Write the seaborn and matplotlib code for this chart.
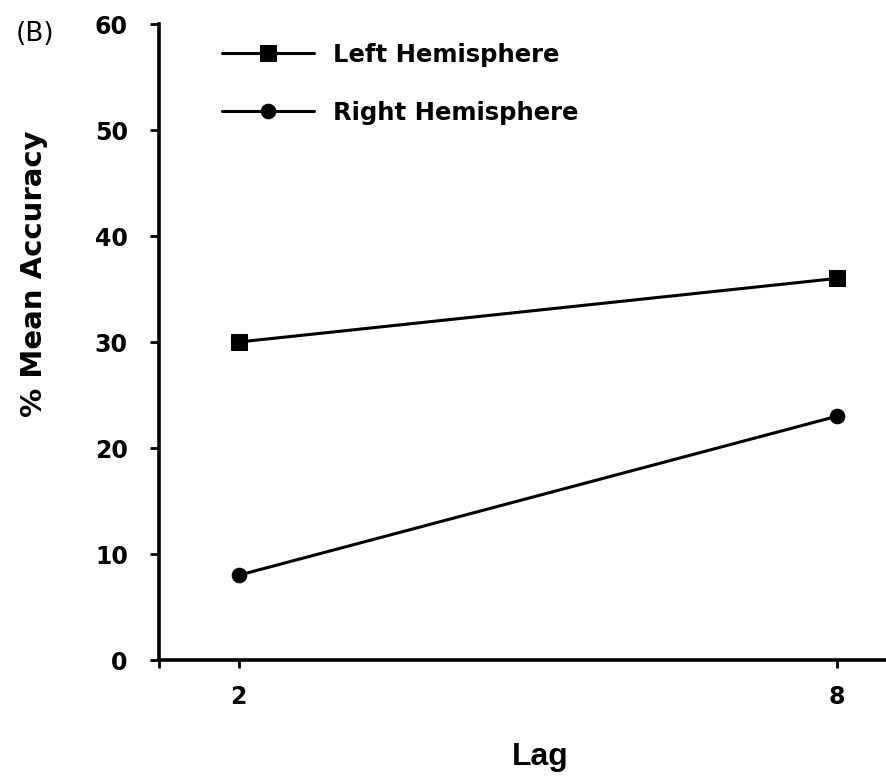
import matplotlib
matplotlib.use("Agg")
import matplotlib.pyplot as plt
import seaborn as sns
import pandas as pd

lags = [2, 8]
left_hemisphere = [30, 36]
right_hemisphere = [8, 23]
y_ticks = [0, 10, 20, 30, 40, 50, 60]
x_ticks = [2, 8]

df = pd.DataFrame({
    "Lag": lags + lags,
    "Accuracy": left_hemisphere + right_hemisphere,
    "Hemisphere": ["Left Hemisphere"] * len(lags) + ["Right Hemisphere"] * len(lags),
})

sns.set_style("white")
plt.rcParams["font.family"] = ["DejaVu Sans"]
plt.rcParams["text.color"] = "black"
plt.rcParams["axes.labelcolor"] = "black"
plt.rcParams["xtick.color"] = "black"
plt.rcParams["ytick.color"] = "black"

W, H = 886, 780
ax_l, ax_r, ax_t, ax_b = 159, 886, 24, 660
fig = plt.figure(figsize=(W / 100, H / 100), dpi=100)
ax = fig.add_axes([ax_l / W, 1 - ax_b / H, (ax_r - ax_l) / W, (ax_b - ax_t) / H])

sns.lineplot(data=df, x="Lag", y="Accuracy", hue="Hemisphere", style="Hemisphere",
             palette=["black", "black"], markers={"Left Hemisphere": "s", "Right Hemisphere": "o"},
             dashes=False, linewidth=2.2, markersize=11.5, markeredgecolor="black", ax=ax)
# circle slightly smaller than the square
for line in ax.lines:
    if line.get_marker() == "o":
        line.set_markersize(10.5)

ax.set_xlim(1.2, 8.49)
ax.set_ylim(0, 60)
ax.set_xticks(x_ticks)
ax.set_xticks([1.2], minor=True)
ax.set_yticks(y_ticks)
ax.set_xticklabels([str(t) for t in x_ticks], fontsize=17, fontweight="bold")
ax.set_yticklabels([str(t) for t in y_ticks], fontsize=17, fontweight="bold")
ax.tick_params(axis="y", which="major", direction="out", length=6.5, width=2, pad=16, left=True)
ax.tick_params(axis="x", which="both", direction="out", length=6, width=2, pad=12, bottom=True)

for s in ["top", "right"]:
    ax.spines[s].set_visible(False)
for s in ["left", "bottom"]:
    ax.spines[s].set_linewidth(2.6)
    ax.spines[s].set_color("black")

ax.set_xlabel("Lag", fontsize=23, fontweight="bold", family="Liberation Sans")
ax.xaxis.set_label_coords((540 - ax_l) / (ax_r - ax_l), (ax_b - 757) / (ax_b - ax_t))
ax.xaxis.label.set_va("center")
ax.set_ylabel("% Mean Accuracy", fontsize=21, fontweight="bold")
ax.yaxis.set_label_coords((34 - ax_l) / (ax_r - ax_l), (ax_b - 274) / (ax_b - ax_t))
ax.yaxis.label.set_va("center")

leg = ax.legend(loc="upper left", bbox_to_anchor=((222 - ax_l) / (ax_r - ax_l), 1 - (43 - ax_t) / (ax_b - ax_t)),
                frameon=False, fontsize=17.5, handlelength=3.8, labelspacing=1.38,
                handletextpad=0.75, borderaxespad=0, borderpad=0)
for t in leg.get_texts():
    t.set_fontweight("bold")
for h in leg.legend_handles:
    h.set_linewidth(2.2)

fig.text(35 / W, 1 - 34 / H, "(B)", fontsize=19, ha="center", va="center")

fig.savefig("out.png", dpi=100)
